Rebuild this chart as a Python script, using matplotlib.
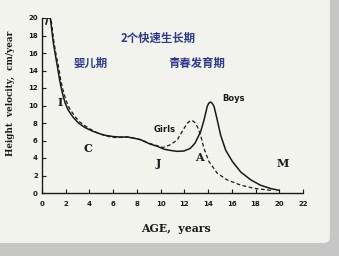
import matplotlib
matplotlib.use("Agg")
import matplotlib.pyplot as plt
from matplotlib.patches import FancyBboxPatch

# ---- data ----
boys_age = [0.35, 0.45, 0.7, 0.96, 1.15, 1.33, 1.5, 1.72, 1.95, 2.2, 2.6, 3.07, 3.6, 4.2,
            4.8, 5.3, 6.0, 6.5, 7.2, 7.8, 8.3, 9.1, 9.7, 10.3, 10.9, 11.4, 11.96, 12.5,
            12.9, 13.37, 13.65, 13.93, 14.05, 14.2, 14.35, 14.5, 14.78, 15.06, 15.48,
            16.05, 16.75, 17.6, 18.4, 19.3, 20.0]
boys_vel = [19.3, 20.0, 20.0, 17.1, 15.6, 14.2, 12.8, 11.4, 10.3, 9.5, 8.7, 8.0, 7.5, 7.1,
            6.8, 6.6, 6.45, 6.4, 6.4, 6.25, 6.1, 5.6, 5.35, 5.0, 4.85, 4.76, 4.8, 5.1,
            5.7, 7.0, 8.3, 9.9, 10.25, 10.4, 10.25, 9.9, 8.3, 6.6, 4.9,
            3.6, 2.4, 1.5, 0.9, 0.5, 0.3]

girls_age = [0.35, 0.45, 0.75, 1.0, 1.2, 1.4, 1.58, 1.8, 2.05, 2.3, 2.7, 3.1, 3.6, 4.2,
             4.8, 5.3, 6.0, 6.5, 7.2, 7.8, 8.3, 9.1, 9.7, 10.2, 10.8, 11.4, 11.8, 12.24,
             12.45, 12.66, 12.88, 13.09, 13.37, 13.65, 14.07, 14.78, 15.6, 16.75, 17.9,
             19.0, 19.3]
girls_vel = [19.3, 20.0, 20.0, 17.3, 15.7, 14.4, 12.9, 11.6, 10.5, 9.7, 8.9, 8.2, 7.7, 7.2,
             6.8, 6.55, 6.35, 6.35, 6.4, 6.25, 6.1, 5.65, 5.4, 5.2, 5.5, 6.06, 7.0, 7.97,
             8.2, 8.3, 8.05, 7.6, 6.6, 5.1, 3.6, 2.25, 1.5, 0.9, 0.53,
             0.35, 0.3]

x_ticks = [0, 2, 4, 6, 8, 10, 12, 14, 16, 18, 20, 22]
y_ticks = [0, 2, 4, 6, 8, 10, 12, 14, 16, 18, 20]

stage_labels = ["I", "C", "J", "A", "M"]
stage_pos = [(1.55, 10.3), (3.9, 5.1), (9.8, 3.4), (13.3, 4.1), (20.3, 3.4)]

W, H = 339, 256
fig = plt.figure(figsize=(W / 100, H / 100), dpi=100)
fig.patch.set_facecolor("#c6c6c6")

# slide area
slide = FancyBboxPatch((-0.05, 0.051), 1.023, 1.0, boxstyle="round,pad=0,rounding_size=0.02",
                       transform=fig.transFigure, facecolor="#f3f3ee", edgecolor="none",
                       zorder=-10)
fig.patches.append(slide)

ax = fig.add_axes([42 / W, 1 - 193 / H, 261 / W, 175 / H])
ax.set_facecolor("none")
ax.set_zorder(5)

ax.plot(boys_age, boys_vel, color="#1a1a1a", lw=1.1, solid_joinstyle="round")
ax.plot(girls_age, girls_vel, color="#1a1a1a", lw=0.9, ls=(0, (3, 2)))

ax.set_xlim(0, 22)
ax.set_ylim(0, 20)
ax.set_xticks(x_ticks)
ax.set_yticks(y_ticks)
ax.set_xticklabels([str(t) for t in x_ticks], fontsize=5, fontweight="bold")
ax.set_yticklabels([str(t) for t in y_ticks], fontsize=5, fontweight="bold")
ax.tick_params(direction="in", length=3, width=0.8, colors="#1a1a1a")
ax.tick_params(axis="y", pad=3)
ax.tick_params(axis="x", pad=6)
for s in ["top", "right"]:
    ax.spines[s].set_visible(False)
for s in ["left", "bottom"]:
    ax.spines[s].set_linewidth(1.0)
    ax.spines[s].set_color("#1a1a1a")

serif = ["DejaVu Serif"]
for lab, (xx, yy) in zip(stage_labels, stage_pos):
    ax.text(xx, yy, lab, fontsize=8, fontweight="bold", family=serif,
            ha="center", va="center", color="#1a1a1a")

ax.text(16.1, 10.8, "Boys", fontsize=6, fontweight="bold", ha="center", va="center",
        color="#1a1a1a")
ax.text(10.3, 7.3, "Girls", fontsize=6, fontweight="bold", ha="center", va="center",
        color="#1a1a1a")

cjk = ["Noto Sans CJK SC", "DejaVu Sans"]
blue = "#2c3a8c"
fig.text(158 / W, 1 - 38 / H, "2个快速生长期", fontsize=8.2, fontweight="bold", family=cjk,
         color=blue, ha="center", va="center")
fig.text(91 / W, 1 - 63 / H, "婴儿期", fontsize=8.2, fontweight="bold", family=cjk,
         color=blue, ha="center", va="center")
fig.text(197 / W, 1 - 63 / H, "青春发育期", fontsize=8.2, fontweight="bold", family=cjk,
         color=blue, ha="center", va="center")

fig.text(176 / W, 1 - 229 / H, "AGE,  years", fontsize=7.8, fontweight="bold", family=serif,
         color="#1a1a1a", ha="center", va="center")
fig.text(10 / W, 1 - 93 / H, "Height  velocity,  cm/year", fontsize=6.3, fontweight="bold",
         family=serif, color="#1a1a1a", ha="center", va="center", rotation=90)

fig.savefig("out.png", dpi=100, facecolor=fig.get_facecolor())
